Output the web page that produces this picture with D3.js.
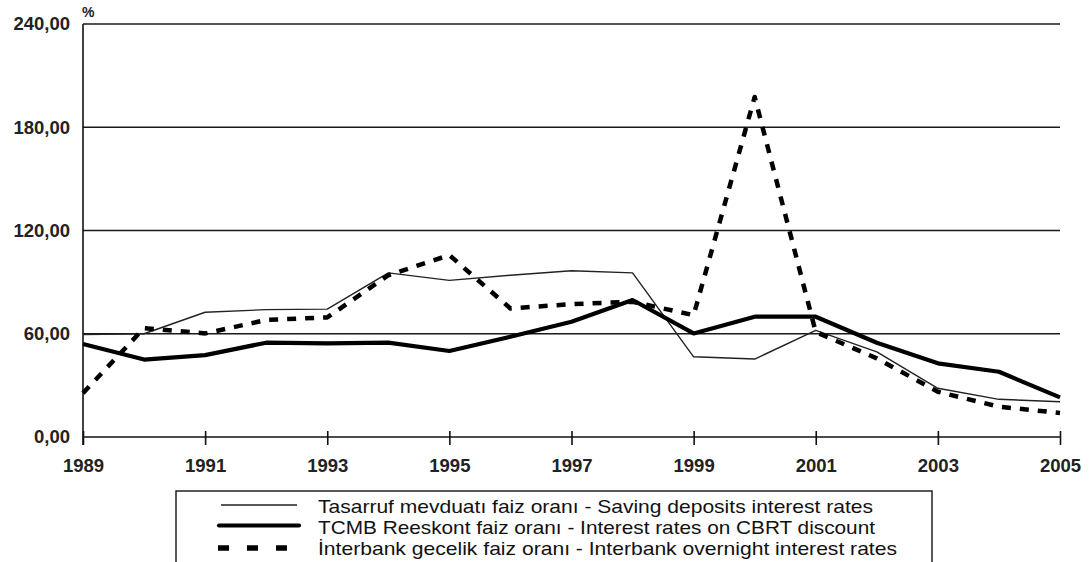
<!DOCTYPE html>
<html><head><meta charset="utf-8">
<script src="https://cdn.jsdelivr.net/npm/d3@7"></script>
<style>body{margin:0;background:#fff}svg{display:block}</style>
</head><body>
<svg id="c" width="1092" height="562"></svg>
<script>
const years = [1989,1990,1991,1992,1993,1994,1995,1996,1997,1998,1999,2000,2001,2002,2003,2004,2005];
const savingRates = [59.5,60,72.5,74,74.3,95.4,91,94,96.6,95.4,46.6,45.3,62,49.5,28.3,21.9,20.5];
const discountRates = [54,45,47.6,54.8,54.4,54.8,50,58.3,67,79.6,60.2,69.9,69.9,54.8,42.8,37.9,23];
const overnightRates = [25.5,63.3,60.2,68,69.5,94,105.7,74.7,77.2,78.6,70.8,197.6,61,45.7,26.3,17.6,14];
const yTicks = [0,60,120,180,240];
const xTicks = [1989,1991,1993,1995,1997,1999,2001,2003,2005];
const seriesNames = [
  "Tasarruf mevduatı faiz oranı - Saving deposits interest rates",
  "TCMB Reeskont faiz oranı - Interest rates on CBRT discount",
  "İnterbank gecelik faiz oranı - Interbank overnight interest rates"
];

const svg = d3.select("#c");
const x = d3.scaleLinear().domain([1989,2005]).range([83,1060]);
const y = d3.scaleLinear().domain([0,240]).range([437,24]);
const fmt = v => d3.format(".2f")(v).replace(".", ",");
const font = "'Liberation Sans', Arial, sans-serif";

// gridlines
svg.append("g").selectAll("line").data(yTicks.filter(d=>d>0)).join("line")
  .attr("x1", x(1989)).attr("x2", x(2005))
  .attr("y1", d=>y(d)).attr("y2", d=>y(d))
  .attr("stroke", "#1a1a1a").attr("stroke-width", 1.5);

// y axis
const yAxis = svg.append("g").attr("transform", `translate(${x(1989)},0)`)
  .call(d3.axisLeft(y).tickValues(yTicks).tickFormat(fmt).tickSize(0).tickPadding(13));
yAxis.select(".domain").attr("stroke","#111").attr("stroke-width",1.6).attr("d", `M0,${y(240)}V${y(0)+8}`);
yAxis.selectAll("text").attr("font-family",font)
  .attr("font-size",18.5).attr("font-weight","bold").attr("fill","#222");

// x axis
const xAxis = svg.append("g").attr("transform", `translate(0,${y(0)})`)
  .call(d3.axisBottom(x).tickValues(xTicks).tickFormat(d3.format("d")).tickSize(8).tickPadding(14));
xAxis.select(".domain").attr("stroke","#111").attr("stroke-width",1.6).attr("d", `M${x(1989)},0H${x(2005)}`);
xAxis.selectAll(".tick line").attr("y1",-6).attr("y2",8).attr("stroke","#111").attr("stroke-width",1.6);
xAxis.selectAll("text").attr("font-family",font)
  .attr("font-size",18.5).attr("font-weight","bold").attr("fill","#222");

// % label
svg.append("text").attr("x",82).attr("y",17).text("%")
  .attr("font-family",font).attr("font-size",14).attr("font-weight","bold").attr("fill","#222");

const line = d3.line().x((d,i)=>x(years[i])).y(d=>y(d));
const styles = [
  {w:1.4, dash:null, color:"#222"},
  {w:4.2, dash:null, color:"#000"},
  {w:4.5, dash:"9,9", color:"#000"}
];
[savingRates, discountRates, overnightRates].forEach((s,k)=>{
  svg.append("path").datum(s).attr("d", line).attr("fill","none")
    .attr("stroke", styles[k].color).attr("stroke-width", styles[k].w)
    .attr("stroke-linejoin","round")
    .attr("stroke-dasharray", styles[k].dash);
});

// legend
const lg = svg.append("g");
lg.append("rect").attr("x",176).attr("y",491).attr("width",756).attr("height",90)
  .attr("fill","#fff").attr("stroke","#222").attr("stroke-width",1.5);
const lw = [555, 557, 579];
const sampleY = [505, 525.5, 548];
seriesNames.forEach((n,k)=>{
  const ly = sampleY[k];
  lg.append("line").attr("x1", k==1?219:(k==2?218:221)).attr("x2", k==1?299:(k==2?288:297))
    .attr("y1",ly).attr("y2",ly)
    .attr("stroke", styles[k].color).attr("stroke-width", k==2?5.5:styles[k].w)
    .attr("stroke-linecap", k==1 ? "round" : "butt")
    .attr("stroke-dasharray", k==2 ? "11,18" : null);
  lg.append("text").attr("x",318).attr("y",513 + k*21).text(n)
    .attr("font-family",font)
    .attr("font-size",18.5).attr("fill","#111")
    .attr("textLength", lw[k]).attr("lengthAdjust","spacingAndGlyphs");
});
</script>
</body></html>
